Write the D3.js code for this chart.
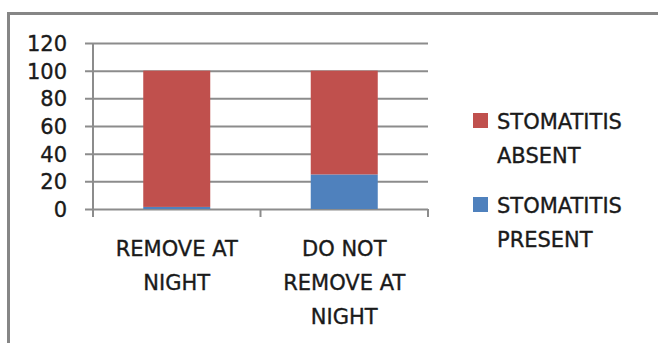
<!DOCTYPE html>
<html>
<head>
<meta charset="utf-8">
<script src="https://cdn.jsdelivr.net/npm/d3@7"></script>
<style>
  html, body { margin: 0; padding: 0; background: #fff; }
  svg { display: block; }
  text { font-family: "DejaVu Sans", sans-serif; fill: #1a1a1a; stroke: #1a1a1a; stroke-width: 0.35px; }
</style>
</head>
<body>
<svg id="chart" width="658" height="343"></svg>
<script>
// Denture habit vs. stomatitis (percent of patients)
const categories = [["REMOVE AT", "NIGHT"], ["DO NOT", "REMOVE AT", "NIGHT"]];
const categoryKeys = ["remove", "keep"];
const stomatitisPresent = [1.5, 25];
const stomatitisAbsent = [98.5, 75];
const yTicks = [0, 20, 40, 60, 80, 100, 120];
const seriesNames = [["STOMATITIS", "ABSENT"], ["STOMATITIS", "PRESENT"]];
const seriesColors = ["#C0504D", "#4F81BD"];

const svg = d3.select("#chart");
const plot = { left: 93, right: 428, top: 43, bottom: 209 };
const fontSize = 21, lineGap = 34;

// outer frame (top and left edges visible)
svg.append("line").attr("x1", 8.5).attr("x2", 658).attr("y1", 13.5).attr("y2", 13.5)
  .attr("stroke", "#868686").attr("stroke-width", 3);
svg.append("line").attr("x1", 8.5).attr("x2", 8.5).attr("y1", 12).attr("y2", 343)
  .attr("stroke", "#868686").attr("stroke-width", 3);

const y = d3.scaleLinear().domain([0, 120]).range([plot.bottom, plot.top]);
const x = d3.scaleBand().domain(categoryKeys).range([plot.left, plot.right])
  .paddingInner(0.6).paddingOuter(0.3);

// horizontal gridlines + y tick labels
const yAxis = d3.axisLeft(y).tickValues(yTicks).tickSize(-(plot.right - plot.left) - 8)
  .tickPadding(0).tickFormat(d3.format("d"));
const gy = svg.append("g").attr("transform", `translate(${plot.right},0)`).call(yAxis);
gy.select(".domain").remove();
gy.selectAll(".tick line").attr("x1", 0).attr("x2", -(plot.right - plot.left) - 8)
  .attr("stroke", "#8c8c8c").attr("stroke-width", 2);
gy.selectAll(".tick text")
  .attr("x", -(plot.right - 67))
  .attr("text-anchor", "end")
  .attr("dy", "0.36em")
  .style("font-size", fontSize + "px")
  .style("font-family", "'DejaVu Sans', sans-serif")
  .attr("fill", "#1a1a1a");

// vertical axis line
svg.append("line").attr("x1", plot.left).attr("x2", plot.left)
  .attr("y1", plot.top).attr("y2", plot.bottom + 8)
  .attr("stroke", "#8c8c8c").attr("stroke-width", 2);

// category boundary tick marks
const step = x.step();
const boundaries = d3.range(categoryKeys.length + 1).map(i => plot.left + i * step);
svg.append("g").selectAll("line").data(boundaries.slice(1)).join("line")
  .attr("x1", d => d).attr("x2", d => d)
  .attr("y1", plot.bottom).attr("y2", plot.bottom + 8)
  .attr("stroke", "#8c8c8c").attr("stroke-width", 2);

// stacked bars
const rows = categoryKeys.map((k, i) => ({ key: k, present: stomatitisPresent[i], absent: stomatitisAbsent[i] }));
const stack = d3.stack().keys(["present", "absent"])(rows);
const colorOf = { present: seriesColors[1], absent: seriesColors[0] };
svg.append("g").selectAll("g").data(stack).join("g")
  .attr("fill", s => colorOf[s.key])
  .selectAll("rect").data(s => s).join("rect")
  .attr("x", d => x(d.data.key))
  .attr("width", x.bandwidth())
  .attr("y", d => y(d[1]))
  .attr("height", d => y(d[0]) - y(d[1]));

// category labels
const catG = svg.append("g");
categoryKeys.forEach((k, i) => {
  const t = catG.append("text")
    .attr("text-anchor", "middle")
    .style("font-size", fontSize + "px");
  categories[i].forEach((line, j) => {
    t.append("tspan").attr("x", x(k) + x.bandwidth() / 2).attr("y", 256 + j * lineGap).text(line);
  });
});

// legend
const legend = svg.append("g").attr("transform", "translate(473,113)");
seriesNames.forEach((name, i) => {
  const g = legend.append("g").attr("transform", `translate(0,${i * 84})`);
  g.append("rect").attr("width", 15).attr("height", 15).attr("fill", seriesColors[i]);
  const t = g.append("text").style("font-size", fontSize + "px");
  name.forEach((line, j) => {
    t.append("tspan").attr("x", 24).attr("y", 16 + j * lineGap).text(line);
  });
});
</script>
</body>
</html>
